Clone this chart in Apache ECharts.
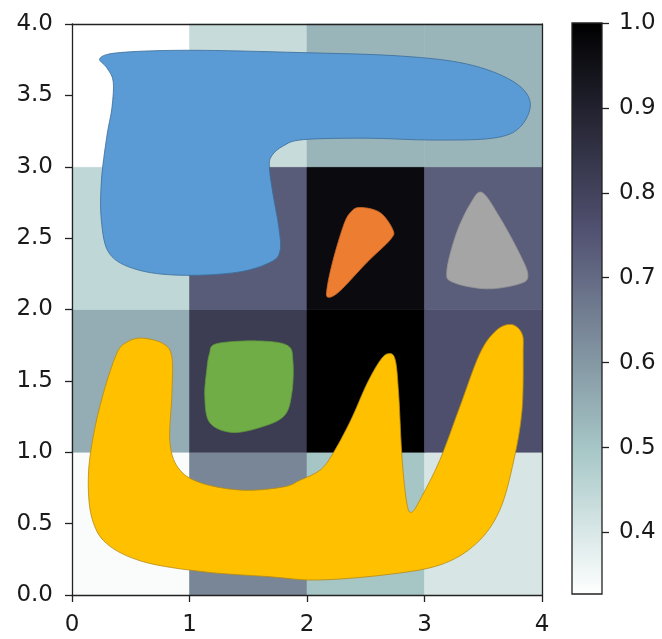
<!DOCTYPE html>
<html><head><meta charset="utf-8">
<script src="https://cdn.jsdelivr.net/npm/echarts@6/dist/echarts.min.js"></script>
<style>html,body{margin:0;padding:0;background:#fff}#c{width:662px;height:639px}</style>
</head><body><div id="c"></div>
<script>
// heatmap cell values, row index = y cell (0 = bottom), col = x cell
const row0 = [0.338, 0.638, 0.502, 0.405];
const row1 = [0.554, 0.819, 1.000, 0.765];
const row2 = [0.449, 0.731, 0.968, 0.726];
const row3 = [0.3275, 0.436, 0.536, 0.536];
const rows = [row0, row1, row2, row3];
const vMin = 0.3275, vMax = 1.0;
const xTicks = [0, 1, 2, 3, 4];
const yTicks = [0, 0.5, 1, 1.5, 2, 2.5, 3, 3.5, 4];
const cbTicks = [0.4, 0.5, 0.6, 0.7, 0.8, 0.9, 1.0];

const blueBlob = [[0.238,3.76],[0.41,3.80],[1.0,3.816],[1.94,3.80],[2.79,3.776],[3.36,3.72],[3.75,3.60],[3.90,3.45],[3.81,3.275],[3.58,3.20],[3.07,3.187],[2.51,3.20],[1.97,3.19],[1.80,3.147],[1.70,3.077],[1.68,2.995],[1.71,2.81],[1.76,2.576],[1.77,2.41],[1.685,2.33],[1.40,2.26],[0.92,2.24],[0.55,2.28],[0.32,2.39],[0.25,2.62],[0.25,2.90],[0.295,3.205],[0.34,3.415],[0.35,3.60],[0.295,3.695]];
const orangeBlob = [[2.45,2.715],[2.62,2.68],[2.73,2.56],[2.71,2.49],[2.51,2.33],[2.28,2.13],[2.18,2.086],[2.17,2.145],[2.22,2.34],[2.31,2.587],[2.37,2.68]];
const grayBlob = [[3.49,2.82],[3.64,2.646],[3.81,2.39],[3.88,2.24],[3.81,2.18],[3.53,2.145],[3.245,2.19],[3.19,2.27],[3.27,2.53],[3.39,2.74]];
const greenBlob = [[1.23,1.76],[1.57,1.78],[1.83,1.75],[1.88,1.64],[1.87,1.41],[1.80,1.25],[1.57,1.166],[1.345,1.14],[1.17,1.21],[1.13,1.39],[1.146,1.57],[1.17,1.69]];
const yellowBlob = [[0.593,1.80],[0.777,1.76],[0.85,1.667],[0.85,1.41],[0.834,1.06],[0.92,0.874],[1.117,0.78],[1.46,0.734],[1.80,0.757],[1.94,0.804],[2.11,0.874],[2.22,0.99],[2.37,1.22],[2.51,1.48],[2.62,1.64],[2.69,1.69],[2.75,1.65],[2.78,1.41],[2.81,0.944],[2.85,0.64],[2.89,0.58],[2.96,0.664],[3.13,0.944],[3.30,1.317],[3.47,1.69],[3.61,1.853],[3.74,1.895],[3.83,1.83],[3.84,1.69],[3.83,1.294],[3.76,0.944],[3.64,0.594],[3.44,0.36],[3.13,0.21],[2.65,0.14],[2.08,0.105],[1.685,0.128],[1.117,0.163],[0.607,0.233],[0.295,0.36],[0.167,0.547],[0.139,0.827],[0.18,1.107],[0.266,1.41],[0.38,1.69],[0.465,1.77]];

// matplotlib "bone" colormap
function interp(segs, t) {
  for (let i = 1; i < segs.length; i++) {
    if (t <= segs[i][0]) {
      const a = segs[i-1], b = segs[i];
      return a[1] + (b[1]-a[1]) * (t-a[0])/(b[0]-a[0]);
    }
  }
  return segs[segs.length-1][1];
}
const R = [[0,0],[0.746032,0.652778],[1,1]];
const G = [[0,0],[0.365079,0.319444],[0.746032,0.777778],[1,1]];
const B = [[0,0],[0.365079,0.444444],[1,1]];
function bone(t) {
  const c = v => Math.round(Math.max(0, Math.min(1, v)) * 255);
  return 'rgb(' + c(interp(R,t)) + ',' + c(interp(G,t)) + ',' + c(interp(B,t)) + ')';
}
const N = 64;
const rampColors = [], gradStops = [];
for (let i = 0; i <= N; i++) {
  rampColors.push(bone(1 - i/N));
  gradStops.push({offset: i/N, color: bone(i/N)});
}

const cellData = [];
rows.forEach((r, yi) => r.forEach((v, xi) => cellData.push([xi, yi, v])));

const font = {fontFamily: 'DejaVu Sans', fontSize: 23, color: '#1a1a1a'};
const lineStyle = {color: '#222', width: 1.3};

// closed Catmull-Rom path through pixel points
function closedSpline(pts) {
  const n = pts.length;
  let d = 'M' + pts[0][0].toFixed(2) + ',' + pts[0][1].toFixed(2);
  for (let i = 0; i < n; i++) {
    const p0 = pts[(i - 1 + n) % n], p1 = pts[i], p2 = pts[(i + 1) % n], p3 = pts[(i + 2) % n];
    const c1 = [p1[0] + (p2[0] - p0[0]) / 6, p1[1] + (p2[1] - p0[1]) / 6];
    const c2 = [p2[0] - (p3[0] - p1[0]) / 6, p2[1] - (p3[1] - p1[1]) / 6];
    d += 'C' + c1[0].toFixed(2) + ',' + c1[1].toFixed(2) + ' ' + c2[0].toFixed(2) + ',' + c2[1].toFixed(2) + ' ' + p2[0].toFixed(2) + ',' + p2[1].toFixed(2);
  }
  return d + 'Z';
}

function blobSeries(points, fill, stroke) {
  return {
    type: 'custom', xAxisIndex: 0, yAxisIndex: 0, z: 5, silent: true,
    data: points, encode: {x: 0, y: 1},
    renderItem: (params, api) => {
      if (params.dataIndex !== 0) return null;
      const pts = points.map(p => api.coord(p));
      return {type: 'path', shape: {pathData: closedSpline(pts)},
        style: {fill: fill, stroke: stroke, lineWidth: 0.8}};
    }
  };
}

const chart = echarts.init(document.getElementById('c'), null, {renderer: 'canvas'});
chart.setOption({
  animation: false,
  backgroundColor: '#fff',
  grid: [
    {left: 72, top: 24, width: 470, height: 571},
    {left: 572, top: 23, width: 30, height: 571}
  ],
  xAxis: [
    {gridIndex: 0, type: 'value', min: 0, max: 4, interval: 1, z: 10,
     axisLine: {show: true, onZero: false, lineStyle}, axisTick: {show: true, length: 7, lineStyle},
     axisLabel: {...font, margin: 19, formatter: v => String(v)}, splitLine: {show: false}},
    {gridIndex: 0, type: 'value', position: 'top', min: 0, max: 4, z: 10,
     axisLine: {show: true, onZero: false, lineStyle}, axisTick: {show: false}, axisLabel: {show: false}, splitLine: {show: false}},
    {gridIndex: 1, type: 'value', min: 0, max: 1, show: false}
  ],
  yAxis: [
    {gridIndex: 0, type: 'value', min: 0, max: 4, interval: 0.5, z: 10,
     axisLine: {show: true, onZero: false, lineStyle}, axisTick: {show: true, length: 7, lineStyle},
     axisLabel: {...font, margin: 19, formatter: v => v.toFixed(1)}, splitLine: {show: false}},
    {gridIndex: 0, type: 'value', position: 'right', min: 0, max: 4, z: 10,
     axisLine: {show: true, onZero: false, lineStyle}, axisTick: {show: false}, axisLabel: {show: false}, splitLine: {show: false}},
    {gridIndex: 1, type: 'value', position: 'right', min: vMin, max: vMax, z: 10,
     axisLine: {show: false, onZero: false},
     axisTick: {show: true, length: 7, lineStyle, customValues: cbTicks},
     axisLabel: {...font, margin: 17, customValues: cbTicks, formatter: v => v.toFixed(1)},
     splitLine: {show: false}}
  ],
  visualMap: {
    show: false, type: 'continuous', min: vMin, max: vMax, dimension: 2, seriesIndex: 0,
    inRange: {color: rampColors}
  },
  series: [
    {
      type: 'custom', xAxisIndex: 0, yAxisIndex: 0, z: 1, silent: true,
      data: cellData, encode: {x: 0, y: 1},
      renderItem: (params, api) => {
        const x = api.value(0), y = api.value(1);
        const p0 = api.coord([x, y + 1]), p1 = api.coord([x + 1, y]);
        const col = api.visual('color');
        return {type: 'rect', shape: {x: p0[0], y: p0[1], width: p1[0]-p0[0], height: p1[1]-p0[1]},
          style: {fill: col, stroke: col, lineWidth: 0.6}};
      }
    },
    blobSeries(blueBlob, '#5B9BD5', '#3a6c99'),
    blobSeries(orangeBlob, '#ED7D31', '#c8682a'),
    blobSeries(grayBlob, '#A5A5A5', '#949494'),
    blobSeries(greenBlob, '#70AD47', '#5f953c'),
    blobSeries(yellowBlob, '#FFC000', '#b58a10'),
    {
      type: 'custom', xAxisIndex: 2, yAxisIndex: 2, z: 3, silent: true,
      data: [[0, vMin]], encode: {x: 0, y: 1},
      renderItem: (params, api) => {
        const p0 = api.coord([0, vMax]), p1 = api.coord([1, vMin]);
        return {type: 'rect', shape: {x: p0[0], y: p0[1], width: p1[0]-p0[0], height: p1[1]-p0[1]},
          style: {fill: new echarts.graphic.LinearGradient(0, 0, 0, 1, gradStops), stroke: '#222', lineWidth: 1.3}};
      }
    }
  ]
});
</script></body></html>
